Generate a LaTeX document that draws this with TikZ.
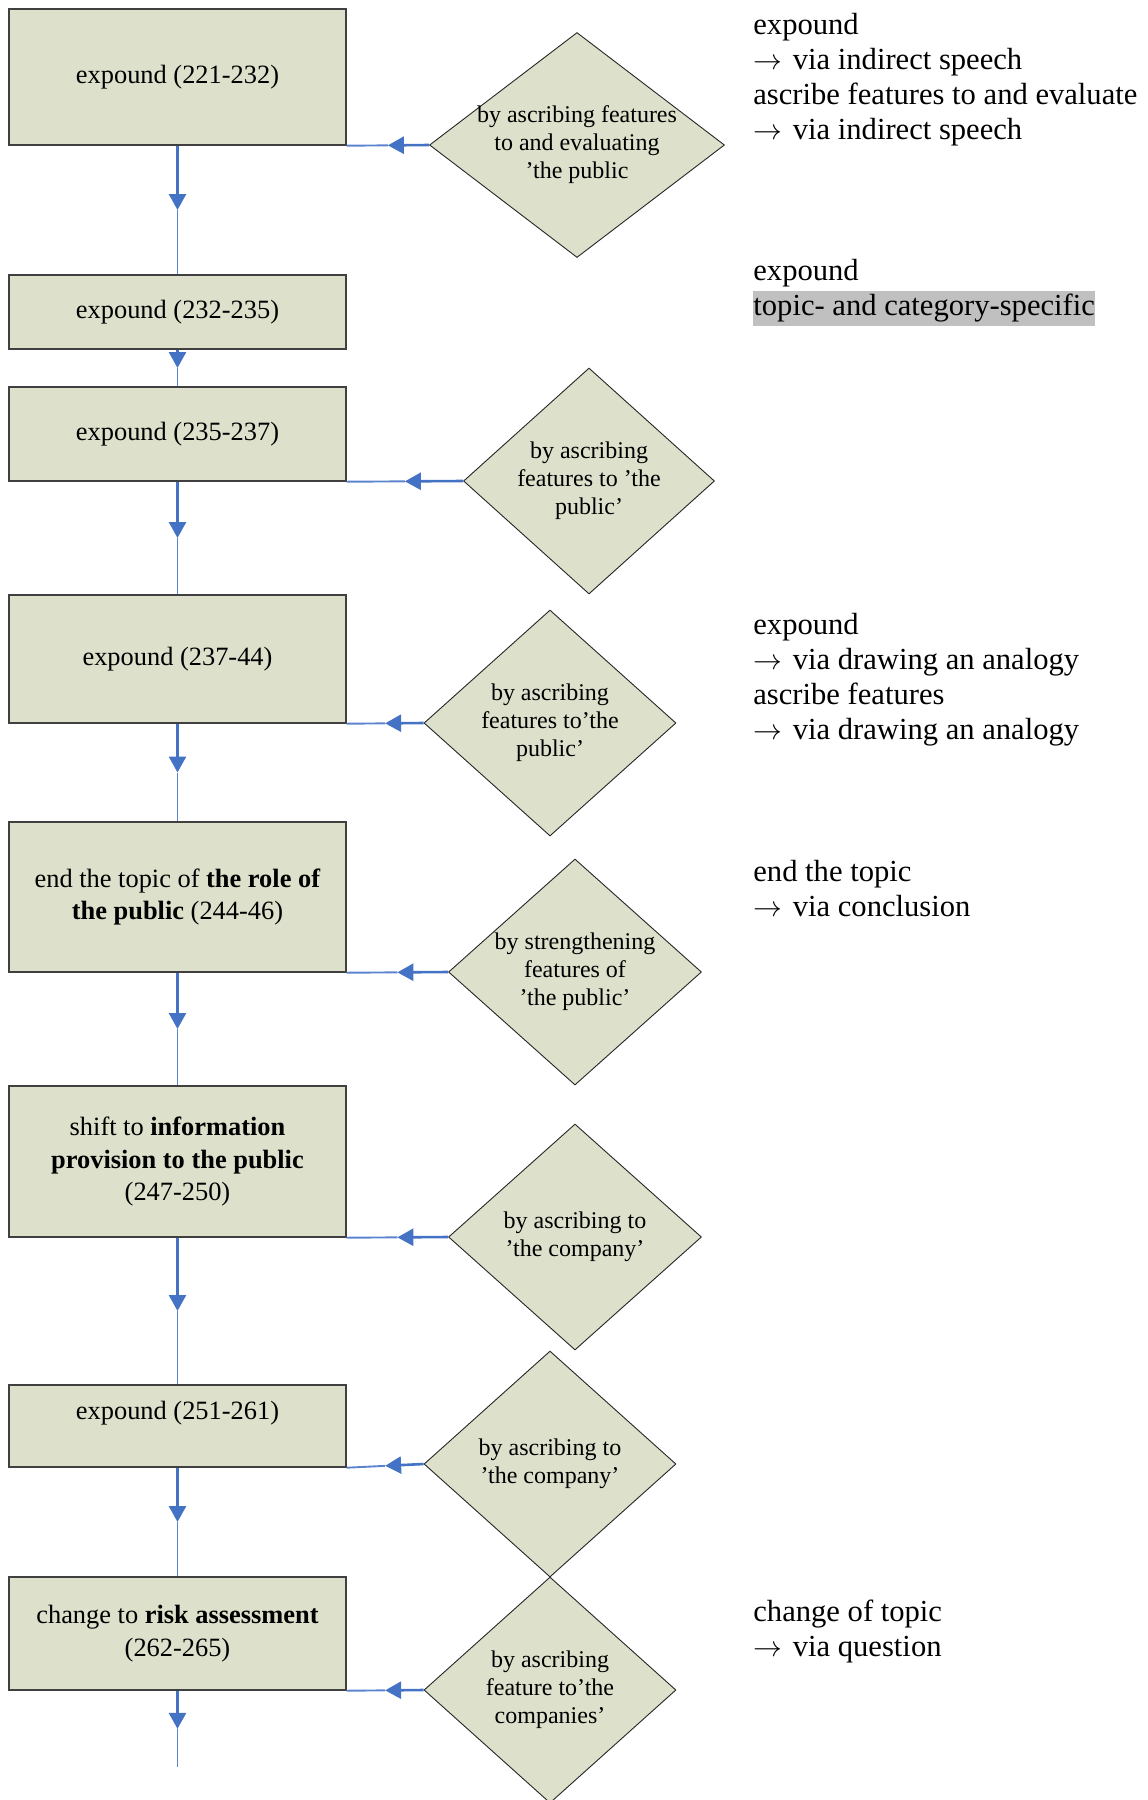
\documentclass[tikz,border=0pt]{standalone}
\usepackage{fontspec}
\setmainfont{Liberation Serif}
\usetikzlibrary{shapes.geometric, arrows.meta, calc}

\definecolor{boxfill}{RGB}{221,224,203}
\definecolor{linkblue}{RGB}{68,114,196}
\definecolor{linklight}{RGB}{92,132,206}
\definecolor{hlgray}{RGB}{192,192,192}

\tikzset{
  stage/.style={draw=black!75, line width=0.7pt, fill=boxfill, minimum width=168.5pt,
    inner sep=0pt, align=center, font=\fontsize{13.2}{16.4}\selectfont},
  choice/.style={diamond, draw=black!85, line width=0.45pt, fill=boxfill, inner sep=0pt},
  choicetext/.style={align=center, inner sep=0pt, font=\fontsize{12}{14}\selectfont},
  note/.style={anchor=north west, align=left, inner sep=0pt, font=\fontsize{15.3}{17.6}\selectfont},
  linkhead/.style={draw=linkblue, line width=1.3pt, -{Triangle[length=8pt,width=8.5pt]}},
  linktail/.style={draw=linklight, line width=0.95pt},
}

% a connector: heavy half ending in an arrow tip, then a light half
\newcommand\linkpair[2]{%
  \draw[linkhead] (#1) -- ($(#1)!0.5!(#2)$);
  \draw[linktail] ($(#1)!0.5!(#2)$) -- (#2);}
\newcommand\via{$\rightarrow$\hspace{1.5pt} via}

\begin{document}
\begin{tikzpicture}[x=0.5pt, y=-0.5pt]
\useasboundingbox (0,0) rectangle (1147,1800);

% stages of the sequence
\node[stage, minimum height=68pt]   (b1) at (177.5,77)     {expound (221-232)};
\node[stage, minimum height=37pt]   (b2) at (177.5,312)    {expound (232-235)};
\node[stage, minimum height=47pt]   (b3) at (177.5,434)    {expound (235-237)};
\node[stage, minimum height=64pt]   (b4) at (177.5,659)    {expound (237-44)};
\node[stage, minimum height=75pt]   (b5) at (177.5,897)    {end the topic of \textbf{the role of}\\\textbf{the public} (244-46)};
\node[stage, minimum height=75.5pt] (b6) at (177.5,1161.5) {shift to \textbf{information}\\\textbf{provision to the public}\\(247-250)};
\node[stage, minimum height=41pt, text height=9.5pt, text depth=16pt]
                                    (b7) at (177.5,1426)   {expound (251-261)};
\node[stage, minimum height=56.5pt] (b8) at (177.5,1633.5) {change to \textbf{risk assessment}\\(262-265)};
\coordinate (tail) at (177.5,1767);

% means by which each stage is carried out
\node[choice, minimum width=147.5pt, minimum height=112.5pt] (d1) at (577,145)  {};
\node[choice, minimum width=125.5pt, minimum height=113pt]   (d2) at (589,481)  {};
\node[choice, minimum width=126pt,   minimum height=113pt]   (d3) at (550,723)  {};
\node[choice, minimum width=126.5pt, minimum height=113pt]   (d4) at (575,972)  {};
\node[choice, minimum width=126.5pt, minimum height=113pt]   (d5) at (575,1237) {};
\node[choice, minimum width=126pt,   minimum height=113pt]   (d6) at (550,1464) {};
\node[choice, minimum width=126pt,   minimum height=113pt]   (d7) at (550,1690) {};

\node[choicetext] (t1) at (d1) {by ascribing features\\to and evaluating\\’the public};
\node[choicetext] (t2) at (d2) {by ascribing\\features to ’the\\public’};
\node[choicetext] (t3) at (d3) {by ascribing\\features to’the\\public’};
\node[choicetext] (t4) at (d4) {by strengthening\\features of\\’the public’};
\node[choicetext] (t5) at (d5) {by ascribing to\\’the company’};
\node[choicetext] (t6) at (d6) {by ascribing to\\’the company’};
\node[choicetext] (t7) at (d7) {by ascribing\\feature to’the\\companies’};

% flow down the stages
\linkpair{b1.south}{b2.north}
\linkpair{b2.south}{b3.north}
\linkpair{b3.south}{b4.north}
\linkpair{b4.south}{b5.north}
\linkpair{b5.south}{b6.north}
\linkpair{b6.south}{b7.north}
\linkpair{b7.south}{b8.north}
\linkpair{b8.south}{tail}

% means feeding into the stages
\linkpair{d1.west}{b1.south east}
\linkpair{d2.west}{b3.south east}
\linkpair{d3.west}{b4.south east}
\linkpair{d4.west}{b5.south east}
\linkpair{d5.west}{b6.south east}
\linkpair{d6.west}{b7.south east}
\linkpair{d7.west}{b8.south east}

% annotations
\node[note] (n1) at (753,9)    {\strut expound\\\via{} indirect speech\\ascribe features to and evaluate\\\via{} indirect speech};
\node[note] (n2) at (753,255)  {\strut expound\\{\fboxsep=0pt\colorbox{hlgray}{\strut topic- and category-specific}}};
\node[note] (n3) at (753,609)  {\strut expound\\\via{} drawing an analogy\\ascribe features\\\via{} drawing an analogy};
\node[note] (n4) at (753,856)  {\strut end the topic\\\via{} conclusion};
\node[note] (n5) at (753,1596) {\strut change of topic\\\via{} question};
\end{tikzpicture}
\end{document}
